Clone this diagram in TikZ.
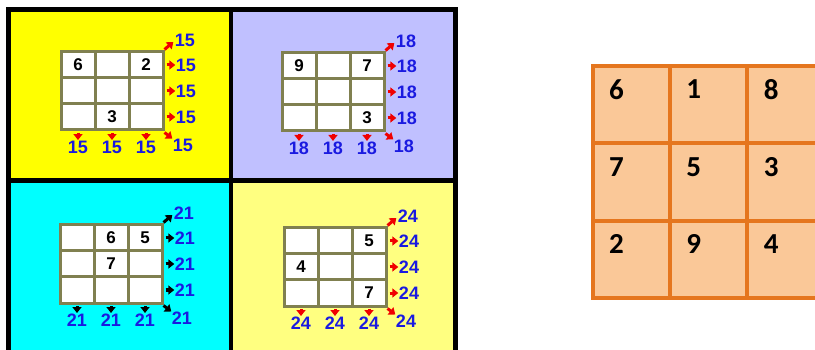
\documentclass[tikz,border=0pt]{standalone}
\usepackage{fontspec}
\setmainfont{Liberation Sans}
\newfontfamily\calib{Carlito}
\usetikzlibrary{arrows.meta}
\definecolor{pA}{HTML}{FFFF00}
\definecolor{pB}{HTML}{C0C0FF}
\definecolor{pC}{HTML}{00FFFF}
\definecolor{pD}{HTML}{FFFF80}
\definecolor{gridol}{HTML}{808050}
\definecolor{labblue}{HTML}{1A1AE0}
\definecolor{arrred}{HTML}{F00000}
\definecolor{msline}{HTML}{E5761E}
\definecolor{msfill}{HTML}{FAC898}
\tikzset{
  gcell/.style={draw=gridol, line width=3pt, fill=white, minimum width=34pt, minimum height=26pt, inner sep=0pt},
  cnum/.style={font=\bfseries\fontsize{17}{17}\selectfont, text=black, inner sep=0pt},
  lab/.style={font=\bfseries\fontsize{18}{18}\selectfont, text=labblue, inner sep=0pt},
  arr/.style={draw=#1, line width=3pt, -{Triangle[width=9pt,length=6pt]}},
  mscell/.style={draw=msline, line width=4pt, fill=msfill, minimum width=77.3pt, minimum height=77.3pt, inner sep=0pt},
  msnum/.style={font=\calib\bfseries\fontsize{29}{29}\selectfont, text=black, inner sep=0pt},
}
\newcommand\magicpanel[6]{%
  \foreach \r in {1,2,3}{\foreach \c in {1,2,3}{
    \node[gcell] (#1-\r-\c) at ({#2+(\c-0.5)*34},{#3+(\r-0.5)*26}) {};
  }}
  \foreach \r/\c/\v in {#6}{\node[cnum] (#1-n-\r-\c) at (#1-\r-\c) {\v};}
  \foreach \r in {1,2,3}{
    \node[lab] (#1-R\r) at ({#2+102+23},{#3+(\r-0.5)*26}) {#5};
    \draw[arr=#4] ([xshift=2pt]#1-\r-3.east) -- ([xshift=-0.5pt]#1-R\r.west);
  }
  \foreach \c in {1,2,3}{
    \node[lab] (#1-B\c) at ({#2+(\c-0.5)*34},{#3+78+17}) {#5};
    \draw[arr=#4] ([yshift=-1.5pt]#1-3-\c.south) -- ([yshift=0.5pt]#1-B\c.north);
  }
  \node[lab] (#1-TD) at ({#2+102+22},{#3-12}) {#5};
  \draw[arr=#4] ([shift={(0pt,1pt)}]#1-1-3.north east) -- ([shift={(-1.5pt,-2pt)}]#1-TD.west);
  \node[lab] (#1-BD) at ({#2+102+20},{#3+78+15}) {#5};
  \draw[arr=#4] ([shift={(0pt,-1pt)}]#1-3-3.south east) -- ([shift={(-0.5pt,0pt)}]#1-BD.north west);
}
\begin{document}
\begin{tikzpicture}[x=1pt, y=-1pt]
\useasboundingbox (0,0) rectangle (815,350);
\clip (0,0) rectangle (815,350);
\fill[white] (0,0) rectangle (815,350);
% panel backgrounds
\fill[pA] (8.5,9.5) rectangle (231,180.5);
\fill[pB] (231,9.5) rectangle (455,180.5);
\fill[pC] (8.5,180.5) rectangle (231,365);
\fill[pD] (231,180.5) rectangle (455,365);
\draw[black, line width=5pt] (8.5,9.5) rectangle (455,365);
\draw[black, line width=4.5pt] (231,9.5) -- (231,365);
\draw[black, line width=5pt] (8.5,180.5) -- (455,180.5);
% panels
\magicpanel{A}{61}{52}{arrred}{15}{1/1/6,1/3/2,3/2/3}
\magicpanel{B}{282}{53}{arrred}{18}{1/1/9,1/3/7,3/3/3}
\magicpanel{C}{60}{225}{black}{21}{1/2/6,1/3/5,2/2/7}
\magicpanel{D}{284}{228}{arrred}{24}{1/3/5,2/1/4,3/3/7}
% magic square
\foreach \r/\row in {1/{6,1,8},2/{7,5,3},3/{2,9,4}}{
  \foreach \v [count=\c] in \row {
    \node[mscell] (M-\r-\c) at ({592.5+(\c-0.5)*77.3},{66+(\r-0.5)*77.3}) {};
    \node[msnum] (Mn-\r-\c) at ({592.5+(\c-1)*77.3+24},{66+(\r-1)*77.3+23.5}) {\v};
  }
}
\end{tikzpicture}
\end{document}
